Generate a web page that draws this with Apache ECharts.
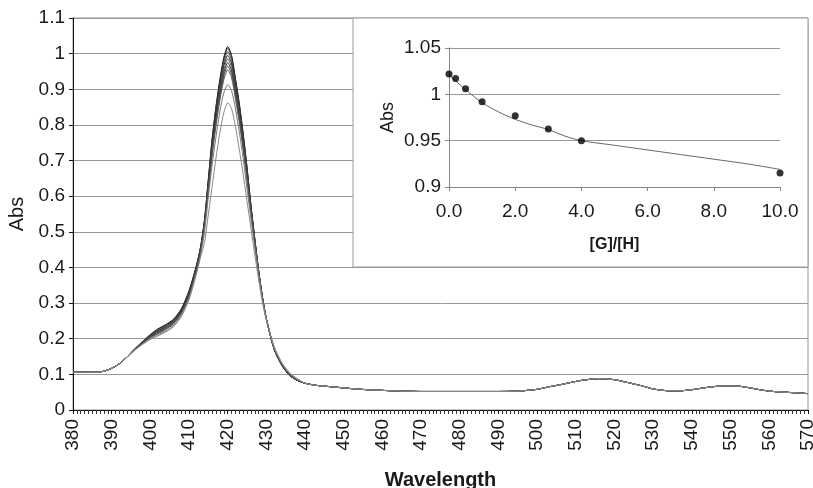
<!DOCTYPE html>
<html>
<head>
<meta charset="utf-8">
<script src="https://cdn.jsdelivr.net/npm/echarts@6/dist/echarts.min.js"></script>
<style>html,body{margin:0;padding:0;background:#fff}#c{width:813px;height:488px}</style>
</head>
<body>
<div id="c"></div>
<script>
// ---- Main spectra data ----
const leftWl = [380, 383, 386, 388, 390, 392, 394];
const leftAbs = [0.106, 0.106, 0.106, 0.109, 0.117, 0.130, 0.149];

const peakWl = [396, 398, 400, 402, 404, 406, 408, 410, 412, 413,
                414, 415, 416, 417, 418, 419, 420, 421, 422, 423, 424, 425, 426, 427, 428,
                429, 430, 432, 434, 436, 438];

const spec1  = [0.172,0.192,0.212,0.228,0.240,0.255,0.284,0.335,0.410,0.460, 0.535,0.650,0.765,0.855,0.930,0.990,1.020,0.995,0.930,0.860,0.775,0.680,0.575,0.480,0.390, 0.315,0.255,0.170,0.125,0.097,0.083];
const spec2  = [0.172,0.191,0.211,0.226,0.238,0.253,0.282,0.333,0.408,0.458, 0.533,0.647,0.762,0.851,0.925,0.985,1.015,0.990,0.926,0.856,0.772,0.678,0.574,0.480,0.390, 0.315,0.255,0.170,0.125,0.097,0.083];
const spec3  = [0.171,0.190,0.209,0.224,0.236,0.251,0.280,0.330,0.405,0.455, 0.530,0.642,0.755,0.843,0.917,0.976,1.006,0.981,0.918,0.849,0.766,0.673,0.571,0.478,0.390, 0.315,0.255,0.171,0.126,0.097,0.083];
const spec4  = [0.171,0.189,0.207,0.222,0.234,0.249,0.278,0.328,0.403,0.452, 0.527,0.636,0.747,0.834,0.907,0.966,0.995,0.971,0.908,0.840,0.758,0.667,0.567,0.476,0.389, 0.314,0.255,0.171,0.126,0.098,0.083];
const spec5  = [0.170,0.189,0.206,0.220,0.232,0.247,0.276,0.326,0.400,0.450, 0.524,0.630,0.739,0.826,0.898,0.956,0.985,0.961,0.899,0.832,0.751,0.661,0.563,0.474,0.388, 0.314,0.255,0.172,0.127,0.098,0.084];
const spec6  = [0.170,0.188,0.205,0.218,0.230,0.245,0.274,0.323,0.398,0.447, 0.521,0.625,0.731,0.817,0.889,0.946,0.975,0.951,0.890,0.823,0.743,0.655,0.559,0.472,0.387, 0.313,0.255,0.172,0.127,0.099,0.084];
const spec7  = [0.170,0.187,0.204,0.216,0.228,0.243,0.272,0.321,0.395,0.445, 0.518,0.619,0.724,0.809,0.880,0.937,0.965,0.942,0.881,0.815,0.736,0.649,0.555,0.470,0.386, 0.312,0.255,0.173,0.128,0.099,0.084];
const spec8  = [0.169,0.187,0.203,0.214,0.226,0.241,0.270,0.319,0.393,0.442, 0.515,0.613,0.716,0.800,0.871,0.927,0.955,0.932,0.872,0.806,0.729,0.643,0.551,0.468,0.385, 0.311,0.255,0.173,0.128,0.100,0.085];
const spec9  = [0.169,0.186,0.200,0.211,0.222,0.237,0.265,0.314,0.389,0.436, 0.500,0.600,0.690,0.770,0.840,0.890,0.913,0.895,0.845,0.780,0.705,0.620,0.535,0.455,0.380, 0.310,0.258,0.175,0.130,0.102,0.086];
const spec10 = [0.168,0.184,0.198,0.208,0.219,0.234,0.262,0.310,0.385,0.430, 0.470,0.550,0.630,0.710,0.780,0.835,0.862,0.845,0.795,0.730,0.660,0.585,0.510,0.435,0.365, 0.300,0.250,0.178,0.133,0.105,0.088];

const rightWl = [440,443,447,452,456,460,465,470,475,480,485,490,495,500,503,506,509,512,516,520,523,527,530,534,537,540,543,546,549,552,555,558,561,564,567,570];
const rightAbs = [0.075,0.069,0.065,0.060,0.057,0.055,0.053,0.052,0.052,0.052,0.052,0.052,0.053,0.058,0.065,0.071,0.078,0.084,0.088,0.085,0.078,0.068,0.059,0.054,0.054,0.057,0.062,0.066,0.068,0.067,0.062,0.056,0.052,0.050,0.048,0.046];

const spectra = [spec1, spec2, spec3, spec4, spec5, spec6, spec7, spec8, spec9, spec10];
const lineColors = ['#111','#2a2a2a','#444','#222','#555','#333','#4a4a4a','#5a5a5a','#777','#888'];

// ---- Inset data ----
const ratioPts = [0, 0.2, 0.5, 1, 2, 3, 4, 10];
const absPts = [1.022, 1.017, 1.006, 0.992, 0.977, 0.9625, 0.950, 0.915];
const fitX = [0, 0.5, 1, 1.5, 2, 2.5, 3, 3.5, 4, 5, 6, 7, 8, 9, 10];
const fitY = [1.021, 1.005, 0.991, 0.981, 0.973, 0.967, 0.962, 0.955, 0.950, 0.945, 0.940, 0.935, 0.930, 0.925, 0.919];

const FONT = 'Liberation Sans, Arial, sans-serif';
const TXT = '#1a1a1a';

function buildSeriesData(arr) {
  const d = [];
  leftWl.forEach((w, i) => d.push([w, leftAbs[i]]));
  peakWl.forEach((w, i) => d.push([w, arr[i]]));
  rightWl.forEach((w, i) => d.push([w, rightAbs[i]]));
  return d;
}

const series = spectra.map((s, i) => ({
  type: 'line',
  xAxisIndex: 0, yAxisIndex: 0,
  data: buildSeriesData(s),
  showSymbol: false,
  smooth: 0.25,
  lineStyle: { color: lineColors[i], width: 1 },
  z: 2,
  animation: false
}));

series.push({
  type: 'line',
  xAxisIndex: 1, yAxisIndex: 1,
  data: fitX.map((x, i) => [x, fitY[i]]),
  showSymbol: false,
  smooth: 0.3,
  lineStyle: { color: '#666', width: 1 },
  z: 20, animation: false
});
series.push({
  type: 'scatter',
  xAxisIndex: 1, yAxisIndex: 1,
  data: ratioPts.map((x, i) => [x, absPts[i]]),
  symbol: 'circle',
  symbolSize: 7,
  itemStyle: { color: '#000' },
  z: 21, animation: false
});

const fmt = v => String(parseFloat(v.toFixed(2)));

const option = {
  backgroundColor: '#fff',
  animation: false,
  graphic: [{
    type: 'rect',
    shape: { x: 353, y: 18, width: 455, height: 249 },
    style: { fill: '#fff', stroke: '#9a9a9a', lineWidth: 1 },
    z: 10
  }],
  grid: [
    { left: 73, right: 5, top: 18, bottom: 78, show: true, borderColor: '#999', borderWidth: 1, z: 0, outerBoundsMode: 'none', containLabel: false },
    { left: 449, right: 33, top: 48, bottom: 301, z: 15, outerBoundsMode: 'none', containLabel: false }
  ],
  xAxis: [{
    gridIndex: 0, type: 'value', min: 380, max: 570, interval: 10,
    axisLine: { show: true, lineStyle: { color: '#111', width: 1 } },
    axisTick: { show: true, length: 4, lineStyle: { color: '#111' } },
    minorTick: { show: true, splitNumber: 10, length: 4, lineStyle: { color: '#333' } },
    splitLine: { show: false },
    axisLabel: { rotate: 90, fontSize: 19, color: TXT, fontFamily: FONT, margin: 9 },
    name: 'Wavelength', nameLocation: 'middle', nameGap: 60,
    nameTextStyle: { fontSize: 20, fontWeight: 'bold', color: TXT, fontFamily: FONT }
  }, {
    gridIndex: 1, type: 'value', min: 0, max: 10, interval: 2, z: 15,
    axisLine: { show: true, onZero: false, lineStyle: { color: '#888', width: 1 } },
    axisTick: { show: true, length: 4, lineStyle: { color: '#888' } },
    splitLine: { show: false },
    axisLabel: { fontSize: 19, color: TXT, fontFamily: FONT, margin: 15, formatter: v => v.toFixed(1) },
    name: '[G]/[H]', nameLocation: 'middle', nameGap: 50,
    nameTextStyle: { fontSize: 16, fontWeight: 'bold', color: TXT, fontFamily: FONT }
  }],
  yAxis: [{
    gridIndex: 0, type: 'value', min: 0, max: 1.1, interval: 0.1,
    axisLine: { show: true, lineStyle: { color: '#111', width: 1 } },
    axisTick: { show: true, length: 4, lineStyle: { color: '#111' } },
    splitLine: { show: true, lineStyle: { color: '#999', width: 1 } },
    axisLabel: { fontSize: 19, color: TXT, fontFamily: FONT, margin: 8, formatter: fmt },
    name: 'Abs', nameLocation: 'middle', nameGap: 44,
    nameTextStyle: { fontSize: 20, color: TXT, fontFamily: FONT }
  }, {
    gridIndex: 1, type: 'value', min: 0.9, max: 1.05, interval: 0.05, z: 15,
    axisLine: { show: true, onZero: false, lineStyle: { color: '#888', width: 1 } },
    axisTick: { show: true, length: 4, lineStyle: { color: '#888' } },
    splitLine: { show: true, lineStyle: { color: '#999', width: 1 } },
    axisLabel: { fontSize: 19, color: TXT, fontFamily: FONT, margin: 8, formatter: fmt },
    name: 'Abs', nameLocation: 'middle', nameGap: 52,
    nameTextStyle: { fontSize: 18, color: TXT, fontFamily: FONT }
  }],
  series: series
};

const chart = echarts.init(document.getElementById('c'), null, { renderer: 'canvas' });
chart.setOption(option);
</script>
</body>
</html>
